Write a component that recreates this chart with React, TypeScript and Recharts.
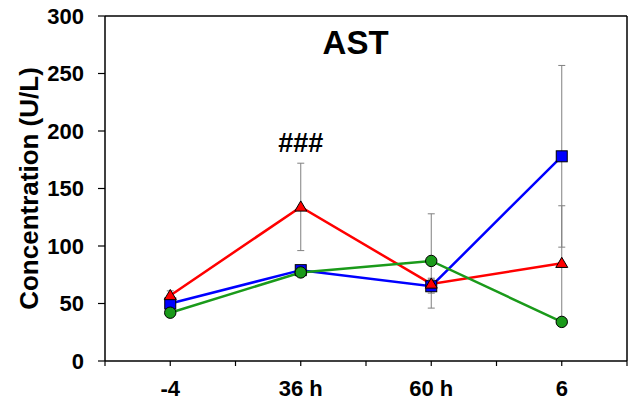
import { LineChart, Line, XAxis, YAxis, ErrorBar, ReferenceLine, ReferenceDot, Label } from 'recharts';

// x categories and their positions on the numeric axis
const categories = ['-4', '36 h', '60 h', '6'];
const xPositions = [0, 1, 2, 3];

// AST values (U/L) and error bars
const redValues = [57, 134, 67, 85];
const redErr = [4, 38, 5, 50];
const blueValues = [50, 79, 65, 178];
const blueErr = [3, 3, 6, 79];
const greenValues = [42, 77, 87, 34];
const greenErr = [2, 2, 41, 2];

const yTicks = [0, 50, 100, 150, 200, 250, 300];
const xTicks = [-0.5, 0, 0.5, 1, 1.5, 2, 2.5, 3, 3.5];

const data = xPositions.map((x, i) => ({
  x,
  red: redValues[i],
  redErr: redErr[i],
  blue: blueValues[i],
  blueErr: blueErr[i],
  green: greenValues[i],
  greenErr: greenErr[i],
}));

const FONT = '"Liberation Sans", Arial, sans-serif';
const GREEN = '#1a9a1a';

const Triangle = (props: any) => {
  const { cx, cy, index } = props;
  if (cx == null || cy == null) return <g key={`t-${index}`} />;
  const s = 6;
  return (
    <path
      key={`t-${index}`}
      d={`M${cx},${cy - s} L${cx + s},${cy + s * 0.7} L${cx - s},${cy + s * 0.7} Z`}
      fill="#ff0000"
      stroke="#000"
      strokeWidth={1}
    />
  );
};

const Square = (props: any) => {
  const { cx, cy, index } = props;
  if (cx == null || cy == null) return <g key={`s-${index}`} />;
  const s = 5.5;
  return <rect key={`s-${index}`} x={cx - s} y={cy - s} width={s * 2} height={s * 2} fill="#0000ff" stroke="#000" strokeWidth={1} />;
};

const Circle = (props: any) => {
  const { cx, cy, index } = props;
  if (cx == null || cy == null) return <g key={`c-${index}`} />;
  return <circle key={`c-${index}`} cx={cx} cy={cy} r={5.7} fill={GREEN} stroke="#000" strokeWidth={1} />;
};

export default function App() {
  return (
    <div style={{ position: 'absolute', left: 0, top: 0, width: 632, height: 404, background: '#fff' }}>
      <LineChart width={632} height={404} data={data} margin={{ top: 16, right: 5, bottom: 0, left: 0 }}>
        <XAxis
          dataKey="x"
          type="number"
          domain={[-0.5, 3.5]}
          ticks={xTicks}
          interval={0}
          height={43}
          allowDataOverflow
          tickFormatter={(v: number) => (Number.isInteger(v) ? categories[v] : '')}
          axisLine={{ stroke: '#000', strokeWidth: 1.5 }}
          tickLine={{ stroke: '#000', strokeWidth: 1.2 }}
          tickSize={5}
          tickMargin={14}
          tick={{ fill: '#000', fontSize: 22, fontWeight: 'bold', fontFamily: FONT }}
        />
        <YAxis
          domain={[0, 300]}
          ticks={yTicks}
          interval={0}
          width={105}
          axisLine={{ stroke: '#000', strokeWidth: 1.5 }}
          tickLine={{ stroke: '#000', strokeWidth: 1.2 }}
          tickSize={7}
          tickMargin={14}
          tick={{ fill: '#000', fontSize: 22, fontWeight: 'bold', fontFamily: FONT }}
        >
          <Label
            value="Concentration (U/L)"
            angle={-90}
            position="center"
            dx={-24}
            style={{ fill: '#000', fontSize: 26, fontWeight: 'bold', fontFamily: FONT, textAnchor: 'middle' }}
          />
        </YAxis>
        <ReferenceLine y={300} stroke="#000" strokeWidth={1.5} ifOverflow="visible" />
        <ReferenceLine x={3.5} stroke="#000" strokeWidth={1.5} ifOverflow="visible" />
        <ReferenceDot x={1.42} y={277} r={0} fill="none" stroke="none" ifOverflow="visible">
          <Label value="AST" position="center" style={{ fill: '#000', fontSize: 33, fontWeight: 'bold', fontFamily: FONT }} />
        </ReferenceDot>
        <ReferenceDot x={1} y={190} r={0} fill="none" stroke="none" ifOverflow="visible">
          <Label value="###" position="center" style={{ fill: '#000', fontSize: 27, fontWeight: 'bold', fontFamily: FONT }} />
        </ReferenceDot>
        <Line dataKey="blue" stroke="#0000ff" strokeWidth={2.5} dot={Square} isAnimationActive={false}>
          <ErrorBar dataKey="blueErr" direction="y" width={3.5} stroke="#808080" strokeWidth={1} />
        </Line>
        <Line dataKey="red" stroke="#ff0000" strokeWidth={2.5} dot={Triangle} isAnimationActive={false}>
          <ErrorBar dataKey="redErr" direction="y" width={3.5} stroke="#808080" strokeWidth={1} />
        </Line>
        <Line dataKey="green" stroke={GREEN} strokeWidth={2.5} dot={Circle} isAnimationActive={false}>
          <ErrorBar dataKey="greenErr" direction="y" width={3.5} stroke="#808080" strokeWidth={1} />
        </Line>
      </LineChart>
    </div>
  );
}
